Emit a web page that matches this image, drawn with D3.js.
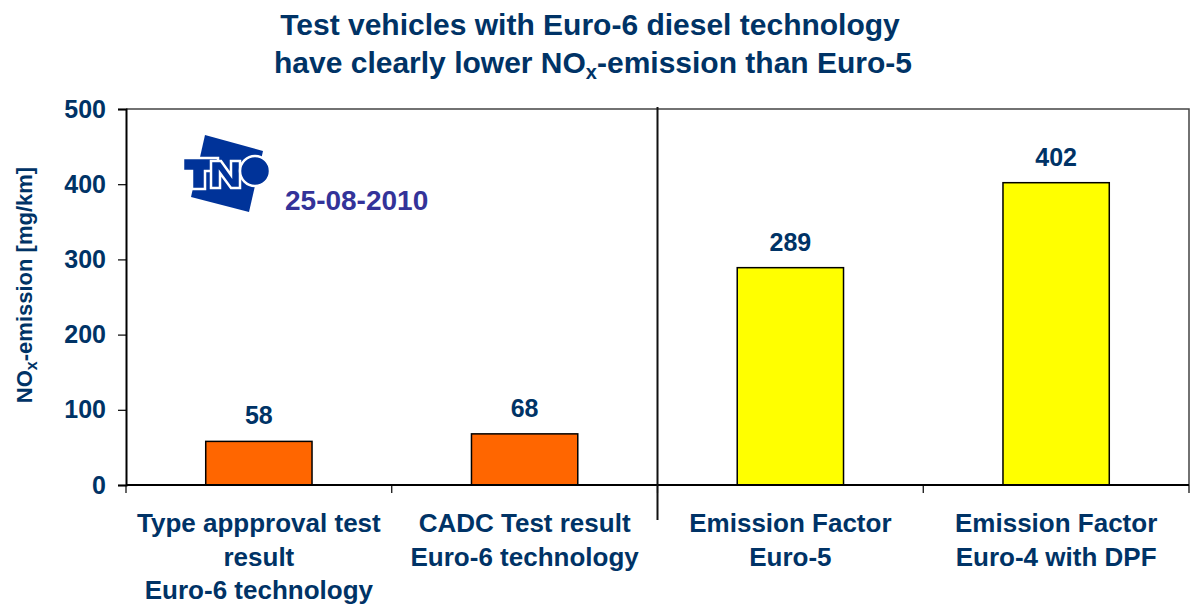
<!DOCTYPE html>
<html>
<head>
<meta charset="utf-8">
<script src="https://cdn.jsdelivr.net/npm/d3@7"></script>
<style>
  body { margin: 0; background: #fff; }
  text { font-family: "Liberation Sans", Arial, sans-serif; font-weight: bold; }
</style>
</head>
<body>
<div id="chart-area"></div>
<script>
// data
var categories = ["Type appproval test|result|Euro-6 technology", "CADC Test result|Euro-6 technology",
                  "Emission Factor|Euro-5", "Emission Factor|Euro-4 with DPF"];
var values = [58, 68, 289, 402];
var barColors = ["#FF6600", "#FF6600", "#FFFF00", "#FFFF00"];
var yTicks = [0, 100, 200, 300, 400, 500];

var W = 1194, H = 606;
var margin = { left: 126, right: 5, top: 109, bottom: 121 };
var width = W - margin.left - margin.right;
var height = H - margin.top - margin.bottom;
var navy = "#003366";

var svg = d3.select("#chart-area").append("svg")
    .attr("width", W)
    .attr("height", H);

var g = svg.append("g")
    .attr("transform", `translate(${margin.left}, ${margin.top})`);

var y = d3.scaleLinear().domain([0, 500]).range([height, 0]);

var x = d3.scaleBand()
    .domain(categories)
    .range([0, width])
    .paddingInner(0.6)
    .paddingOuter(0.3);

// top + right frame
g.append("path")
    .attr("d", `M0,0H${width}V${height}`)
    .attr("fill", "none")
    .attr("stroke", "#444")
    .attr("stroke-width", 1.5);

// bars
g.selectAll("rect.bar")
    .data(values)
    .enter()
    .append("rect")
    .attr("class", "bar")
    .attr("x", function (d, i) { return x(categories[i]); })
    .attr("y", function (d) { return y(d); })
    .attr("width", x.bandwidth())
    .attr("height", function (d) { return height - y(d); })
    .attr("fill", function (d, i) { return barColors[i]; })
    .attr("stroke", "#000")
    .attr("stroke-width", 1.5);

// value labels
g.selectAll("text.val")
    .data(values)
    .enter()
    .append("text")
    .attr("class", "val")
    .attr("x", function (d, i) { return x(categories[i]) + x.bandwidth() / 2; })
    .attr("y", function (d) { return y(d) - 17; })
    .attr("text-anchor", "middle")
    .attr("font-size", "25px")
    .attr("fill", navy)
    .text(function (d) { return d; });

// y axis
var yAxisCall = d3.axisLeft(y).tickValues(yTicks).tickSize(8).tickPadding(12);
var yAxis = g.append("g").attr("class", "y-axis").call(yAxisCall);
yAxis.select(".domain").attr("stroke", "#000").attr("stroke-width", 2);
yAxis.selectAll(".tick line").attr("stroke", "#000").attr("stroke-width", 1.2);
yAxis.selectAll(".tick text")
    .attr("font-size", "25px")
    .attr("font-family", "'Liberation Sans', Arial, sans-serif")
    .attr("font-weight", "bold")
    .attr("fill", navy);

// x axis line
g.append("line")
    .attr("x1", 0).attr("x2", width)
    .attr("y1", height).attr("y2", height)
    .attr("stroke", "#000").attr("stroke-width", 2);

// boundary ticks
var bounds = d3.range(categories.length + 1).map(function (i) { return i * x.step(); });
g.selectAll("line.btick")
    .data(bounds)
    .enter()
    .append("line")
    .attr("class", "btick")
    .attr("x1", function (d) { return d; })
    .attr("x2", function (d) { return d; })
    .attr("y1", height)
    .attr("y2", height + 8)
    .attr("stroke", "#000")
    .attr("stroke-width", 1.2);

// divider between groups
g.append("line")
    .attr("x1", bounds[2]).attr("x2", bounds[2])
    .attr("y1", -2).attr("y2", height + 35)
    .attr("stroke", "#111").attr("stroke-width", 2);

// category labels
categories.forEach(function (c, i) {
    var t = g.append("text")
        .attr("x", x(c) + x.bandwidth() / 2)
        .attr("y", height + 47)
        .attr("text-anchor", "middle")
        .attr("font-size", "26px")
        .attr("fill", navy);
    c.split("|").forEach(function (line, j) {
        t.append("tspan")
            .attr("x", x(c) + x.bandwidth() / 2)
            .attr("dy", j === 0 ? 0 : 33.5)
            .text(line);
    });
});

// y axis title
var yt = svg.append("text")
    .attr("transform", `translate(32, ${margin.top + height / 2 - 12}) rotate(-90)`)
    .attr("text-anchor", "middle")
    .attr("font-size", "22px")
    .attr("fill", navy);
yt.append("tspan").text("NO");
yt.append("tspan").attr("font-size", "16px").attr("dy", 5).text("x");
yt.append("tspan").attr("dy", -5).text("-emission [mg/km]");

// title
svg.append("text")
    .attr("x", 590)
    .attr("y", 35)
    .attr("text-anchor", "middle")
    .attr("font-size", "30px")
    .attr("fill", navy)
    .text("Test vehicles with Euro-6 diesel technology");
var l2 = svg.append("text")
    .attr("x", 593)
    .attr("y", 73)
    .attr("text-anchor", "middle")
    .attr("font-size", "30px")
    .attr("fill", navy);
l2.append("tspan").text("have clearly lower NO");
l2.append("tspan").attr("font-size", "20px").attr("dy", 6).text("x");
l2.append("tspan").attr("dy", -6).text("-emission than Euro-5");

// TNO logo
var logoBlue = "#003399";
var logo = svg.append("g");
logo.append("polygon")
    .attr("points", "205,135 263,151 249,212 191,197")
    .attr("fill", logoBlue);
logo.append("path")   // T
    .attr("d", "M183,158 H218 V171 H205 V189 H192 V171 H183 Z")
    .attr("fill", logoBlue).attr("stroke", "#fff").attr("stroke-width", 2.5);
logo.append("path")   // N
    .attr("d", "M211,161 H221 L231,175 V161 H240 V188 H231 L220,173 V188 H211 Z")
    .attr("fill", logoBlue).attr("stroke", "#fff").attr("stroke-width", 2.5);
logo.append("circle")  // O
    .attr("cx", 255).attr("cy", 171).attr("r", 15)
    .attr("fill", logoBlue).attr("stroke", "#fff").attr("stroke-width", 2.5);

// date
svg.append("text")
    .attr("x", 285).attr("y", 210)
    .attr("font-size", "28px")
    .attr("fill", "#333399")
    .text("25-08-2010");
</script>
</body>
</html>
